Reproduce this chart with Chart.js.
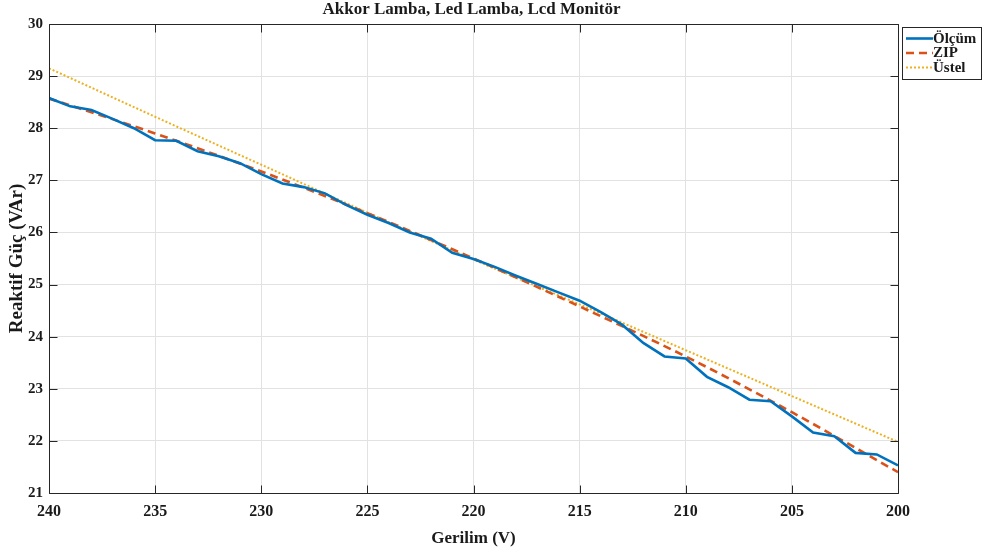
<!DOCTYPE html>
<html>
<head>
<meta charset="utf-8">
<script src="https://cdn.jsdelivr.net/npm/chart.js@4.4.1/dist/chart.umd.min.js"></script>
<style>
  html, body { margin: 0; padding: 0; background: #ffffff; }
  #wrap { width: 983px; height: 549px; }
</style>
</head>
<body>
<div id="wrap"><canvas id="chart" width="983" height="549"></canvas></div>
<script>
// Gerilim (V) — ölçüm noktaları
const voltages = [240,239,238,237,236,235,234,233,232,231,230,229,228,227,226,225,224,223,222,221,
                  220,219,218,217,216,215,214,213,212,211,210,209,208,207,206,205,204,203,202,201,200];
// Ölçülen reaktif güç (VAr)
const olcum = [28.58,28.42,28.35,28.18,28.00,27.77,27.76,27.56,27.46,27.33,27.12,26.94,26.87,26.75,26.53,26.34,26.18,26.00,25.88,25.61,
               25.49,25.34,25.17,25.01,24.85,24.69,24.47,24.23,23.88,23.62,23.58,23.23,23.03,22.79,22.76,22.47,22.16,22.09,21.77,21.74,21.53];
// ZIP model eğrisi
const zipVoltages = [240,235,230,225,220,215,210,205,200];
const zipModel = [28.57,27.90,27.17,26.37,25.50,24.58,23.62,22.55,21.40];
// Üstel model eğrisi
const ustelVoltages = [240,235,230,225,220,215,210,205,200];
const ustelModel = [29.15,28.22,27.30,26.38,25.48,24.62,23.74,22.86,21.98];
// Eksen sınırları ve adımları
const xTickStep = 5, xMin = 200, xMax = 240;
const yTickStep = 1, yMin = 21, yMax = 30;

const serif = '"Liberation Serif", "Times New Roman", serif';
const textColor = '#1a1a1a';
const axisColor = '#262626';

const pts = (xs, ys) => xs.map((x, i) => ({ x: x, y: ys[i] }));

// Çerçeve ve içe dönük tik işaretleri
const framePlugin = {
  id: 'frameTicks',
  afterDatasetsDraw(chart) {
    const { ctx, chartArea: a, scales } = chart;
    const L = Math.round(a.left) + 0.5, R = Math.round(a.right) + 0.5;
    const T = Math.round(a.top) + 0.5, B = Math.round(a.bottom) + 0.5;
    const tl = 8;
    ctx.save();
    ctx.strokeStyle = axisColor;
    ctx.lineWidth = 1;
    ctx.beginPath();
    ctx.rect(L, T, R - L, B - T);
    scales.x.ticks.forEach(t => {
      const px = Math.round(scales.x.getPixelForValue(t.value)) + 0.5;
      ctx.moveTo(px, B); ctx.lineTo(px, B - tl);
      ctx.moveTo(px, T); ctx.lineTo(px, T + tl);
    });
    scales.y.ticks.forEach(t => {
      const py = Math.round(scales.y.getPixelForValue(t.value)) + 0.5;
      ctx.moveTo(L, py); ctx.lineTo(L + tl, py);
      ctx.moveTo(R, py); ctx.lineTo(R - tl, py);
    });
    ctx.stroke();
    ctx.restore();
  }
};

// Başlık
const titlePlugin = {
  id: 'topTitle',
  afterDraw(chart) {
    const { ctx, chartArea: a } = chart;
    ctx.save();
    ctx.font = 'bold 17px ' + serif;
    ctx.fillStyle = textColor;
    ctx.textAlign = 'center';
    ctx.textBaseline = 'middle';
    ctx.fillText('Akkor Lamba, Led Lamba, Lcd Monitör', (a.left + a.right) / 2 - 2, 10);
    ctx.restore();
  }
};

// Sağ üstte kutulu açıklama
const legendPlugin = {
  id: 'boxLegend',
  afterDraw(chart) {
    const { ctx } = chart;
    const x0 = 902.5, y0 = 27.5, w = 79, h = 52;
    ctx.save();
    ctx.fillStyle = '#ffffff';
    ctx.fillRect(x0, y0, w, h);
    ctx.strokeStyle = axisColor;
    ctx.lineWidth = 1;
    ctx.strokeRect(x0, y0, w, h);
    ctx.font = 'bold 15px ' + serif;
    ctx.textBaseline = 'middle';
    ctx.textAlign = 'left';
    chart.data.datasets.forEach((ds, i) => {
      const yy = 38.5 + i * 14.5;
      ctx.strokeStyle = ds.borderColor;
      ctx.lineWidth = ds.borderWidth;
      ctx.setLineDash(ds.borderDash || []);
      ctx.beginPath();
      ctx.moveTo(906, yy); ctx.lineTo(933, yy);
      ctx.stroke();
      ctx.setLineDash([]);
      ctx.fillStyle = textColor;
      ctx.fillText(ds.label, 933, yy + 0.5);
    });
    ctx.restore();
  }
};

new Chart(document.getElementById('chart'), {
  type: 'line',
  data: {
    datasets: [
      { label: 'Ölçüm', data: pts(voltages, olcum), borderColor: '#0072BD', borderWidth: 2.6,
        pointRadius: 0, tension: 0, fill: false },
      { label: 'ZIP', data: pts(zipVoltages, zipModel), borderColor: '#D95319', borderWidth: 2.6,
        borderDash: [8, 5], pointRadius: 0, cubicInterpolationMode: 'monotone', fill: false },
      { label: 'Üstel', data: pts(ustelVoltages, ustelModel), borderColor: '#EDB120', borderWidth: 2,
        borderDash: [2, 2], pointRadius: 0, cubicInterpolationMode: 'monotone', fill: false }
    ]
  },
  options: {
    responsive: false,
    devicePixelRatio: 1,
    animation: false,
    layout: { padding: { left: 0, right: 85, top: 24, bottom: 0 } },
    plugins: { legend: { display: false }, title: { display: false }, tooltip: { enabled: false } },
    scales: {
      x: {
        type: 'linear', reverse: true, min: xMin, max: xMax,
        grid: { color: '#e2e2e2', lineWidth: 1, drawTicks: false },
        border: { display: false },
        ticks: { stepSize: xTickStep, padding: 9, color: textColor, maxRotation: 0,
                 font: { family: serif, size: 16, weight: 'bold' } },
        title: { display: true, text: 'Gerilim (V)', color: textColor,
                 font: { family: serif, size: 17, weight: 'bold' }, padding: { top: 4, bottom: 0 } },
        afterFit(scale) { scale.height = 56; }
      },
      y: {
        min: yMin, max: yMax,
        grid: { color: '#e2e2e2', lineWidth: 1, drawTicks: false },
        border: { display: false },
        ticks: { stepSize: yTickStep, padding: 6, color: textColor,
                 font: { family: serif, size: 15, weight: 'bold' } },
        title: { display: true, text: 'Reaktif Güç (VAr)', color: textColor,
                 font: { family: serif, size: 19, weight: 'bold' }, padding: { top: 6, bottom: 0 } },
        afterFit(scale) { scale.width = 49; }
      }
    }
  },
  plugins: [framePlugin, titlePlugin, legendPlugin]
});
</script>
</body>
</html>
